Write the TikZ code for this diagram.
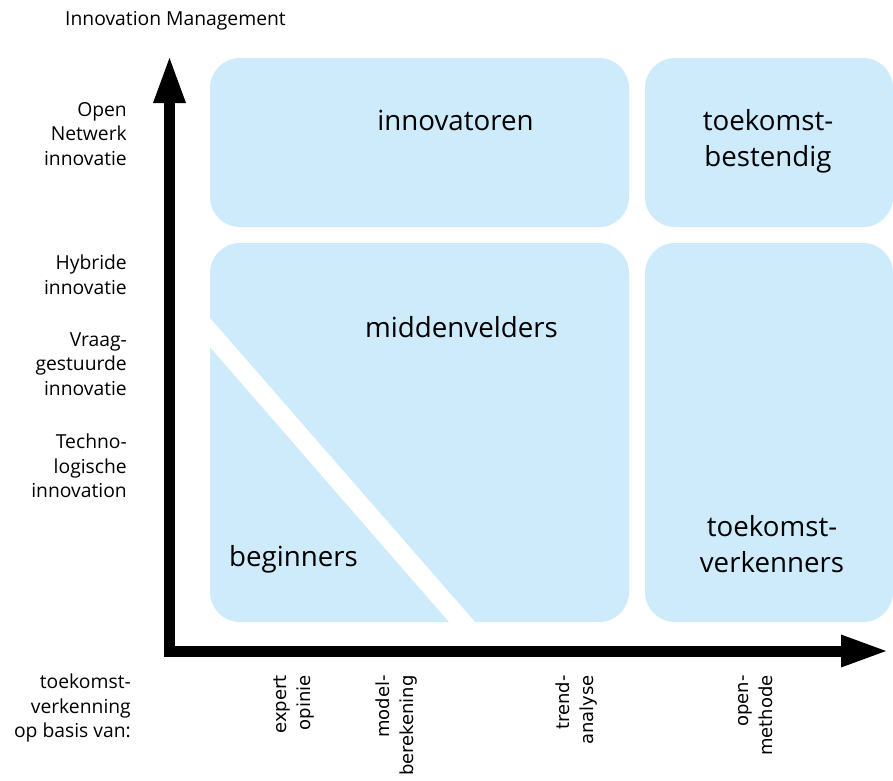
\documentclass[tikz,border=0pt]{standalone}
\usepackage{fontspec}
\setmainfont{Open Sans}
\newfontfamily\methodfont{DejaVu Sans}
\usetikzlibrary{arrows.meta}

\definecolor{fieldblue}{RGB}{205,235,250}

\tikzset{
  field/.style={fill=fieldblue, rounded corners=30pt},
  axisline/.style={line width=11pt, line join=miter,
    {Triangle[length=45pt,width=33pt,line width=0pt]}-{Triangle[length=45pt,width=33pt,line width=0pt]}},
  quadlabel/.style={inner sep=0pt, align=center, font=\fontsize{27.7}{36}\selectfont},
  levellabel/.style={inner sep=0pt, anchor=east, align=right, font=\fontsize{19.3}{24.5}\selectfont},
  methodlabel/.style={inner sep=0pt, rotate=90, anchor=east, align=right,
    font=\methodfont\fontsize{18}{24}\selectfont},
}

\begin{document}
\begin{tikzpicture}[x=1pt, y=-1pt]
\useasboundingbox (0,0) rectangle (893,780);

% quadrant fields
\fill[field] (210,58) rectangle (629,227);
\fill[field] (645,58) rectangle (893,227);
\fill[field] (210,243) rectangle (629,622);
\fill[field] (645,243) rectangle (893,622);
% white diagonal band separating the beginners
\fill[white] (205,312.3) -- (479.4,627) -- (453.4,627) -- (205,341.3) -- cycle;

% axes
\coordinate (ytip) at (169.5,58);
\coordinate (xtip) at (886,651);
\draw[axisline] (ytip) |- (xtip);

% quadrant labels
\node[quadlabel, anchor=base] (innov) at (455.5,130) {innovatoren};
\node[quadlabel] (best) at (768,141) {toekomst-\\bestendig};
\node[quadlabel, anchor=base] (midden) at (461.5,337) {middenvelders};
\node[quadlabel, anchor=base] (begin) at (293.5,566) {beginners};
\node[quadlabel] (verk) at (772,544.5) {toekomst-\\verkenners};

% axis titles
\node[inner sep=0pt, anchor=base west, font=\fontsize{19.3}{24.5}\selectfont] (ytitle) at (65,25) {Innovation Management};

% innovation levels
\node[levellabel] (open) at (127,134) {Open\\Netwerk\\innovatie};
\node[levellabel] (hyb) at (127,275) {Hybride\\innovatie};
\node[levellabel] (vraag) at (127,364) {Vraag-\\gestuurde\\innovatie};
\node[levellabel] (tech) at (127,466) {Techno-\\logische\\innovation};
\node[levellabel] (basis) at (131,708) {toekomst-\\verkenning\\op basis van:};

% exploration methods
\node[methodlabel] (expert) at (294,675) {expert\\opinie};
\node[methodlabel] (model) at (397,675) {model-\\berekening};
\node[methodlabel] (trend) at (577,675) {trend-\\analyse};
\node[methodlabel] (openm) at (756,675) {open-\\methode};
\end{tikzpicture}
\end{document}
